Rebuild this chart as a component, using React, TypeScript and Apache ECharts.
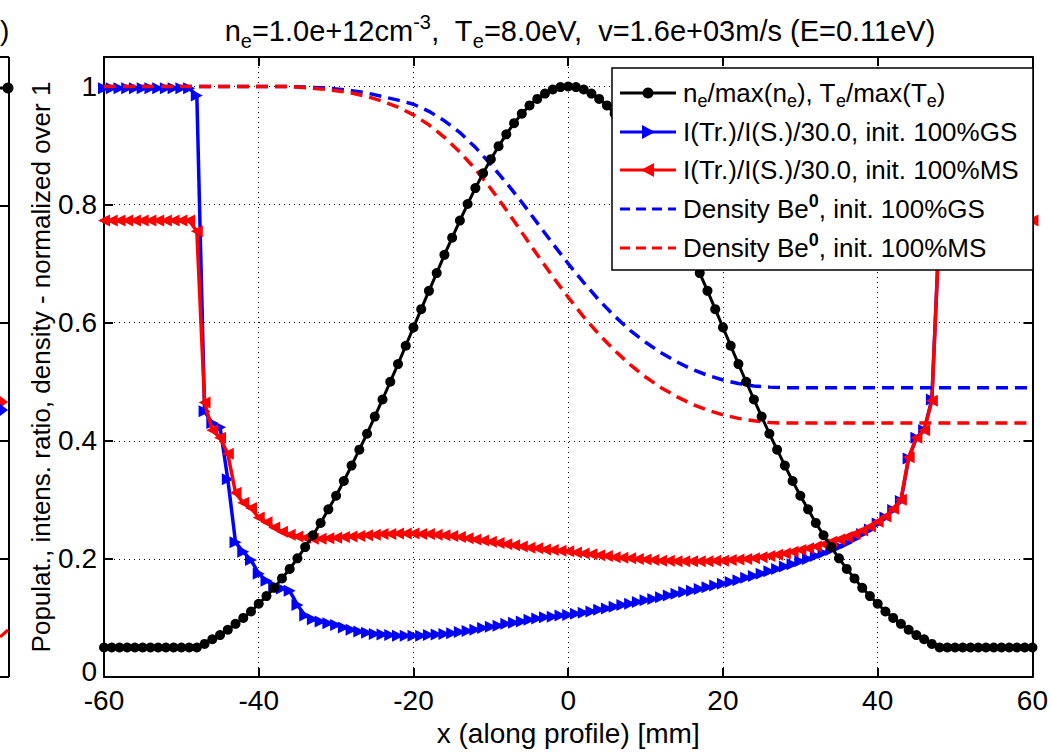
import React, { useEffect, useRef } from "react";
import * as echarts from "echarts";

const X_MM = [
  -60, -59, -58, -57, -56, -55, -54, -53, -52, -51, -50, -49, -48, -47, -46, -45, -44, -43, -42, -41,
  -40, -39, -38, -37, -36, -35, -34, -33, -32, -31, -30, -29, -28, -27, -26, -25, -24, -23, -22, -21,
  -20, -19, -18, -17, -16, -15, -14, -13, -12, -11, -10, -9, -8, -7, -6, -5, -4, -3, -2, -1,
  0, 1, 2, 3, 4, 5, 6, 7, 8, 9, 10, 11, 12, 13, 14, 15, 16, 17, 18, 19,
  20, 21, 22, 23, 24, 25, 26, 27, 28, 29, 30, 31, 32, 33, 34, 35, 36, 37, 38, 39,
  40, 41, 42, 43, 44, 45, 46, 47, 48, 49, 50, 51, 52, 53, 54, 55, 56, 57, 58, 59, 60,
];

const NE_TE = [
  0.05, 0.05, 0.05, 0.05, 0.05, 0.05, 0.05, 0.05, 0.05, 0.05, 0.05, 0.05,
  0.05, 0.056, 0.064, 0.071, 0.08, 0.09, 0.1, 0.111, 0.124, 0.137, 0.151, 0.167, 0.183, 0.201,
  0.22, 0.24, 0.261, 0.284, 0.307, 0.332, 0.358, 0.385, 0.412, 0.441, 0.47, 0.5, 0.53, 0.561,
  0.592, 0.623, 0.654, 0.684, 0.715, 0.744, 0.773, 0.801, 0.828, 0.853, 0.877, 0.899, 0.919,
  0.938, 0.954, 0.968, 0.979, 0.988, 0.995, 0.999,
  1.0,
  0.999, 0.995, 0.988, 0.979, 0.968, 0.954, 0.938, 0.919, 0.899, 0.877, 0.853, 0.828, 0.801,
  0.773, 0.744, 0.715, 0.684, 0.654, 0.623, 0.592, 0.561, 0.53, 0.5, 0.47, 0.441, 0.412, 0.385,
  0.358, 0.332, 0.307, 0.284, 0.261, 0.24, 0.22, 0.201, 0.183, 0.167, 0.151, 0.137, 0.124,
  0.111, 0.1, 0.09, 0.08, 0.071, 0.064, 0.056, 0.05,
  0.05, 0.05, 0.05, 0.05, 0.05, 0.05, 0.05, 0.05, 0.05, 0.05, 0.05, 0.05,
];

const RATIO_GS = [
  0.997, 0.997, 0.997, 0.997, 0.997, 0.997, 0.997, 0.997, 0.997, 0.997, 0.997, 0.997,
  0.985, 0.45, 0.43, 0.423, 0.335, 0.228, 0.212, 0.198, 0.175, 0.163, 0.155, 0.15, 0.146, 0.122,
  0.104, 0.098, 0.094, 0.091, 0.088, 0.084, 0.08, 0.077, 0.075, 0.073, 0.072, 0.071, 0.07, 0.07,
  0.07, 0.07, 0.071, 0.072, 0.073, 0.074, 0.076, 0.078, 0.08, 0.083, 0.085, 0.087, 0.09, 0.092,
  0.094, 0.097, 0.099, 0.101, 0.102, 0.104,
  0.105,
  0.107, 0.109, 0.111, 0.114, 0.116, 0.119, 0.122, 0.124, 0.127, 0.13, 0.132, 0.135, 0.138,
  0.141, 0.144, 0.146, 0.149, 0.152, 0.155, 0.158, 0.161, 0.164, 0.168, 0.171, 0.175, 0.179,
  0.183, 0.187, 0.191, 0.196, 0.2, 0.205, 0.21, 0.215, 0.221, 0.227, 0.234, 0.242, 0.25, 0.26,
  0.27, 0.283, 0.298, 0.37, 0.405, 0.418, 0.47, 0.77,
  0.773, 0.773, 0.773, 0.773, 0.773, 0.773, 0.773, 0.773, 0.773, 0.773, 0.773, 0.773,
];

const RATIO_MS = [
  0.773, 0.773, 0.773, 0.773, 0.773, 0.773, 0.773, 0.773, 0.773, 0.773, 0.773, 0.773,
  0.755, 0.465, 0.418, 0.405, 0.378, 0.312, 0.295, 0.286, 0.27, 0.262, 0.253, 0.246, 0.241, 0.238,
  0.236, 0.234, 0.234, 0.235, 0.236, 0.237, 0.238, 0.239, 0.24, 0.241, 0.242, 0.242, 0.243, 0.243,
  0.243, 0.242, 0.242, 0.241, 0.24, 0.239, 0.237, 0.235, 0.233, 0.231, 0.229, 0.227, 0.225, 0.223,
  0.221, 0.219, 0.218, 0.216, 0.215, 0.214,
  0.213,
  0.211, 0.209, 0.208, 0.206, 0.205, 0.203, 0.202, 0.201, 0.2, 0.199, 0.198, 0.197, 0.197,
  0.196, 0.196, 0.196, 0.196, 0.196, 0.197, 0.197, 0.198, 0.199, 0.2, 0.201, 0.203, 0.205,
  0.207, 0.209, 0.212, 0.215, 0.218, 0.221, 0.225, 0.229, 0.233, 0.237, 0.242, 0.248, 0.255, 0.263,
  0.272, 0.285, 0.3, 0.372, 0.405, 0.418, 0.468, 0.77,
  0.773, 0.773, 0.773, 0.773, 0.773, 0.773, 0.773, 0.773, 0.773, 0.773, 0.773, 0.773,
];

const X_DENS = [
  -60, -58, -56, -54, -52, -50, -48, -46, -44, -42, -40, -38, -36, -34, -32, -30, -28, -26, -24, -22,
  -20, -18, -16, -14, -12, -10, -8, -6, -4, -2, 0, 2, 4, 6, 8, 10, 12, 14, 16, 18,
  20, 22, 24, 26, 28, 30, 32, 34, 36, 38, 40, 42, 44, 46, 48, 50, 52, 54, 56, 58, 60,
];

const DENS_GS = [
  1.0, 1.0, 1.0, 1.0, 1.0, 1.0, 1.0, 1.0, 1.0, 1.0, 1.0, 1.0, 1.0,
  0.999, 0.998, 0.996, 0.993, 0.989, 0.983, 0.977, 0.97, 0.958, 0.942, 0.922, 0.897, 0.868,
  0.837, 0.804, 0.769, 0.734, 0.7, 0.668, 0.638, 0.611, 0.587, 0.567, 0.549, 0.534, 0.521,
  0.511, 0.503, 0.497, 0.493, 0.491,
  0.49, 0.49, 0.49, 0.49, 0.49, 0.49, 0.49, 0.49, 0.49, 0.49, 0.49, 0.49, 0.49, 0.49, 0.49, 0.49, 0.49,
];

const DENS_MS = [
  1.0, 1.0, 1.0, 1.0, 1.0, 1.0, 1.0, 1.0, 1.0, 1.0, 1.0, 1.0, 1.0,
  0.998, 0.996, 0.993, 0.989, 0.983, 0.975, 0.965, 0.952, 0.935, 0.914, 0.889, 0.86, 0.827,
  0.791, 0.753, 0.715, 0.678, 0.643, 0.61, 0.58, 0.553, 0.529, 0.508, 0.49, 0.475, 0.462,
  0.452, 0.444, 0.438, 0.434, 0.431,
  0.43, 0.43, 0.43, 0.43, 0.43, 0.43, 0.43, 0.43, 0.43, 0.43, 0.43, 0.43, 0.43, 0.43, 0.43, 0.43, 0.43,
];

const Y_TICK_LABELS: Record<string, string> = {
  "0": "{z|0}", "0.2": "0.2", "0.4": "0.4", "0.6": "0.6", "0.8": "0.8", "1": "1",
};

const FONT = "Liberation Sans, Arial, Helvetica, sans-serif";
const BLUE = "#0000ff";
const RED = "#ff0000";

export default function App() {
  const ref = useRef<HTMLDivElement>(null);

  useEffect(() => {
    document.body.style.margin = "0";
    const chart = echarts.init(ref.current as HTMLDivElement, null, { renderer: "svg" });

    const pairs = (xs: number[], ys: number[]) => xs.map((x, i) => [x, ys[i]]);

    const axisCommon = {
      type: "value" as const,
      axisLine: { show: true, onZero: false, lineStyle: { color: "#000", width: 2 } },
      axisTick: { show: true, inside: true, length: 9, lineStyle: { color: "#000", width: 2 } },
    };

    const legendRows = [93, 132, 170, 209, 248];
    const sx1 = 620, sx2 = 676, mx = 648, tx = 683;
    const legendGraphics: any[] = [
      {
        type: "rect", z: 100,
        shape: { x: 612, y: 68, width: 421, height: 202 },
        style: { fill: "#fff", stroke: "#000", lineWidth: 1.5 },
      },
      { type: "line", z: 101, shape: { x1: sx1, y1: legendRows[0], x2: sx2, y2: legendRows[0] }, style: { stroke: "#000", lineWidth: 3 } },
      { type: "circle", z: 102, shape: { cx: mx, cy: legendRows[0], r: 5.5 }, style: { fill: "#000" } },
      { type: "line", z: 101, shape: { x1: sx1, y1: legendRows[1], x2: sx2, y2: legendRows[1] }, style: { stroke: BLUE, lineWidth: 3 } },
      { type: "polygon", z: 102, shape: { points: [[mx - 6, legendRows[1] - 7], [mx + 7, legendRows[1]], [mx - 6, legendRows[1] + 7]] }, style: { fill: BLUE } },
      { type: "line", z: 101, shape: { x1: sx1, y1: legendRows[2], x2: sx2, y2: legendRows[2] }, style: { stroke: RED, lineWidth: 3 } },
      { type: "polygon", z: 102, shape: { points: [[mx + 6, legendRows[2] - 7], [mx - 7, legendRows[2]], [mx + 6, legendRows[2] + 7]] }, style: { fill: RED } },
      { type: "line", z: 101, shape: { x1: sx1, y1: legendRows[3], x2: sx2, y2: legendRows[3] }, style: { stroke: BLUE, lineWidth: 3, lineDash: [10, 6] } },
      { type: "line", z: 101, shape: { x1: sx1, y1: legendRows[4], x2: sx2, y2: legendRows[4] }, style: { stroke: RED, lineWidth: 3, lineDash: [10, 6] } },
    ];
    const richLegend = {
      a: { fontSize: 26, fontFamily: FONT, color: "#000" },
      b: { fontSize: 18, fontFamily: FONT, color: "#000", padding: [16, 0, 0, 0] },
      c: { fontSize: 18, fontFamily: FONT, color: "#000", fontWeight: "bold", padding: [0, 0, 16, 0] },
    };
    const legendTexts = [
      "{a|n}{b|e}{a|/max(n}{b|e}{a|), T}{b|e}{a|/max(T}{b|e}{a|)}",
      "{a|I(Tr.)/I(S.)/30.0, init. 100%GS}",
      "{a|I(Tr.)/I(S.)/30.0, init. 100%MS}",
      "{a|Density Be}{c|0}{a|, init. 100%GS}",
      "{a|Density Be}{c|0}{a|, init. 100%MS}",
    ];
    legendTexts.forEach((t, i) => {
      legendGraphics.push({
        type: "text", z: 102,
        style: {
          text: t, rich: richLegend, x: tx, y: legendRows[i],
          verticalAlign: "middle", align: "left", fontSize: 26, fontFamily: FONT, fill: "#000",
        },
      });
    });

    const leftPartial: any[] = [
      { type: "line", z: 100, shape: { x1: 9, y1: 57, x2: 9, y2: 677 }, style: { stroke: "#000", lineWidth: 2 } },
      { type: "line", z: 100, shape: { x1: 0, y1: 57, x2: 9, y2: 57 }, style: { stroke: "#000", lineWidth: 2 } },
      { type: "line", z: 100, shape: { x1: 0, y1: 677, x2: 9, y2: 677 }, style: { stroke: "#000", lineWidth: 2 } },
      ...[206, 323, 441, 559].map((y) => ({
        type: "line", z: 100, shape: { x1: 0, y1: y, x2: 9, y2: y }, style: { stroke: "#000", lineWidth: 2 },
      })),
      { type: "line", z: 100, shape: { x1: 0, y1: 88, x2: 9, y2: 88 }, style: { stroke: "#000", lineWidth: 3 } },
      { type: "circle", z: 101, shape: { cx: 8, cy: 88, r: 5.5 }, style: { fill: "#000" } },
      { type: "polygon", z: 101, shape: { points: [[0, 396], [8, 402], [0, 408]] }, style: { fill: RED } },
      { type: "polygon", z: 101, shape: { points: [[0, 404], [8, 410], [0, 416]] }, style: { fill: BLUE } },
      { type: "line", z: 100, shape: { x1: 0, y1: 637, x2: 8, y2: 630 }, style: { stroke: RED, lineWidth: 3 } },
      { type: "text", z: 100, style: { text: ")", x: 0, y: 30, verticalAlign: "middle", fontSize: 28, fontFamily: FONT, fill: "#000" } },
    ];

    const option: any = {
      animation: false,
      backgroundColor: "#fff",
      title: {
        text: "{t|n}{s|e}{t|=1.0e+12cm}{p|-3}{t|,  T}{s|e}{t|=8.0eV,  v=1.6e+03m/s (E=0.11eV)}",
        left: 575,
        top: 6,
        textAlign: "center",
        textStyle: {
          fontSize: 29,
          fontFamily: FONT,
          fontWeight: "normal",
          color: "#000",
          rich: {
            t: { fontSize: 29, fontFamily: FONT, color: "#000" },
            s: { fontSize: 20, fontFamily: FONT, color: "#000", padding: [20, 0, 0, 0] },
            p: { fontSize: 20, fontFamily: FONT, color: "#000", padding: [0, 0, 18, 0] },
          },
        },
      },
      grid: { left: 104, right: 11, top: 57, bottom: 75 },
      xAxis: [
        {
          ...axisCommon,
          position: "bottom",
          min: -60,
          max: 60,
          interval: 20,
          axisLabel: { color: "#000", fontSize: 28, fontFamily: FONT, margin: 9 },
          splitLine: { show: true, lineStyle: { color: "#000", width: 1, type: [1, 4] } },
          name: "x (along profile) [mm]",
          nameLocation: "middle",
          nameGap: 42,
          nameMoveOverlap: false,
          nameTextStyle: { color: "#000", fontSize: 28, fontFamily: FONT },
        },
        {
          ...axisCommon,
          position: "top",
          min: -60,
          max: 60,
          interval: 20,
          axisLabel: { show: false },
          splitLine: { show: false },
        },
      ],
      yAxis: [
        {
          ...axisCommon,
          position: "left",
          min: 0,
          max: 1.05,
          interval: 0.2,
          axisLabel: {
            color: "#000",
            fontSize: 28,
            fontFamily: FONT,
            margin: 7,
            formatter: (v: number) => Y_TICK_LABELS[String(Number(v.toFixed(2)))] ?? "",
            rich: { z: { fontSize: 28, fontFamily: FONT, color: "#000", padding: [0, 0, 12, 0] } },
          },
          splitLine: { show: true, lineStyle: { color: "#000", width: 1, type: [1, 4] } },
          name: "Populat., intens. ratio, density - normalized over 1",
          nameLocation: "middle",
          nameGap: 50,
          nameMoveOverlap: false,
          nameTextStyle: { color: "#000", fontSize: 26, fontFamily: FONT },
        },
        {
          ...axisCommon,
          position: "right",
          min: 0,
          max: 1.05,
          interval: 0.2,
          axisLabel: { show: false },
          splitLine: { show: false },
        },
      ],
      series: [
        {
          name: "I(Tr.)/I(S.)/30.0, init. 100%GS",
          type: "line",
          data: pairs(X_MM, RATIO_GS),
          symbol: "triangle",
          symbolSize: 12,
          symbolRotate: -90,
          color: BLUE,
          itemStyle: { color: BLUE },
          lineStyle: { color: BLUE, width: 3.5 },
          z: 3,
        },
        {
          name: "I(Tr.)/I(S.)/30.0, init. 100%MS",
          type: "line",
          data: pairs(X_MM, RATIO_MS),
          symbol: "triangle",
          symbolSize: 12,
          symbolRotate: 90,
          color: RED,
          itemStyle: { color: RED },
          lineStyle: { color: RED, width: 3.5 },
          z: 4,
        },
        {
          name: "Density Be0, init. 100%GS",
          type: "line",
          data: pairs(X_DENS, DENS_GS),
          symbol: "none",
          color: BLUE,
          lineStyle: { color: BLUE, width: 3.5, type: [12, 7] },
          z: 5,
        },
        {
          name: "Density Be0, init. 100%MS",
          type: "line",
          data: pairs(X_DENS, DENS_MS),
          symbol: "none",
          color: RED,
          lineStyle: { color: RED, width: 3.5, type: [12, 7] },
          z: 6,
        },
        {
          name: "ne/max(ne), Te/max(Te)",
          type: "line",
          data: pairs(X_MM, NE_TE),
          symbol: "circle",
          symbolSize: 10,
          color: "#000",
          itemStyle: { color: "#000" },
          lineStyle: { color: "#000", width: 3 },
          z: 7,
        },
      ],
      graphic: { elements: [...legendGraphics, ...leftPartial] },
    };

    chart.setOption(option);
    return () => chart.dispose();
  }, []);

  return <div ref={ref} style={{ width: 1051, height: 752 }} />;
}
